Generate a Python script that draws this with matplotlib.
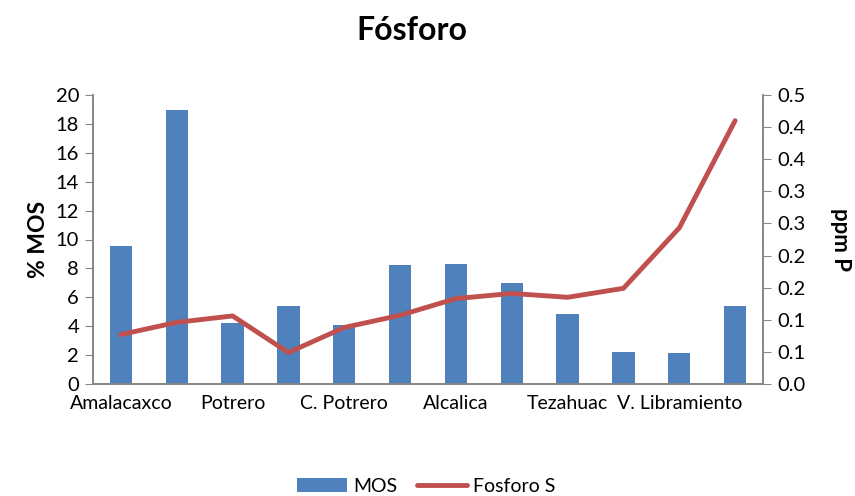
import numpy as np
import matplotlib
matplotlib.use('Agg')
from matplotlib import pyplot as plt
from matplotlib.ticker import FixedLocator

plt.rcParams['font.family'] = ['Lato', 'DejaVu Sans']

# datos
sitios = ['Amalacaxco', '', 'Potrero', '', 'C. Potrero', '', 'Alcalica', '',
          'Tezahuac', '', 'V. Libramiento', '']
mos = [9.55, 18.94, 4.24, 5.42, 4.06, 8.21, 8.30, 6.99, 4.82, 2.19, 2.17, 5.37]
fosforo = [0.077, 0.096, 0.106, 0.049, 0.088, 0.107, 0.133, 0.141, 0.135, 0.149, 0.243, 0.410]
ticks_p = [0.0, 0.05, 0.10, 0.15, 0.20, 0.25, 0.30, 0.35, 0.40, 0.45]
etiquetas_p = ['0.0', '0.1', '0.1', '0.2', '0.2', '0.3', '0.3', '0.4', '0.4', '0.5']

azul = '#4f81bd'
rojo = '#c0504d'
gris = '#868686'

fig = plt.figure(figsize=(8.55, 4.96), dpi=100)
ax = fig.add_axes([93/855, 1-384/496, (763-93)/855, (384-95)/496])
ax2 = ax.twinx()

x = np.arange(len(sitios))
ax.bar(x, mos, width=0.4, color=azul, label='MOS', zorder=2)
ax2.plot(x, fosforo, color=rojo, lw=3.5, label='Fosforo S', solid_capstyle='round')

ax.set_xlim(-0.5, len(sitios)-0.5)
ax.set_ylim(0, 20)
ax.set_yticks(range(0, 21, 2))
ax2.set_ylim(0, 0.45)
ax2.yaxis.set_major_locator(FixedLocator(ticks_p))
ax2.set_yticklabels(etiquetas_p)

ax.set_xticks(x)
ax.set_xticklabels(sitios)
ax.tick_params(axis='x', length=0, labelsize=14, pad=8)
ax.tick_params(axis='y', length=6, color=gris, labelsize=14.5, pad=4)
ax2.tick_params(axis='y', length=6, color=gris, labelsize=14.5, pad=4)

for a in (ax, ax2):
    a.spines['top'].set_visible(False)
    for s in ['left', 'right', 'bottom']:
        a.spines[s].set_color(gris)
        a.spines[s].set_linewidth(1.2)

ax.set_ylabel('% MOS', fontsize=16.5, fontweight='bold', labelpad=5)
ax2.set_ylabel('ppm P', fontsize=16, fontweight='bold', rotation=270, labelpad=33)

fig.text(412/855, 1-30/496, 'Fósforo', ha='center', va='center',
         fontsize=23, fontweight='bold')

h1, l1 = ax.get_legend_handles_labels()
h2, l2 = ax2.get_legend_handles_labels()
fig.legend(h1+h2, l1+l2, loc='center', bbox_to_anchor=(426/855, 1-486/496),
           ncol=2, frameon=False, fontsize=14, handlelength=2.6, columnspacing=1.0,
           handletextpad=0.3)

fig.savefig('out.png', dpi=100)
